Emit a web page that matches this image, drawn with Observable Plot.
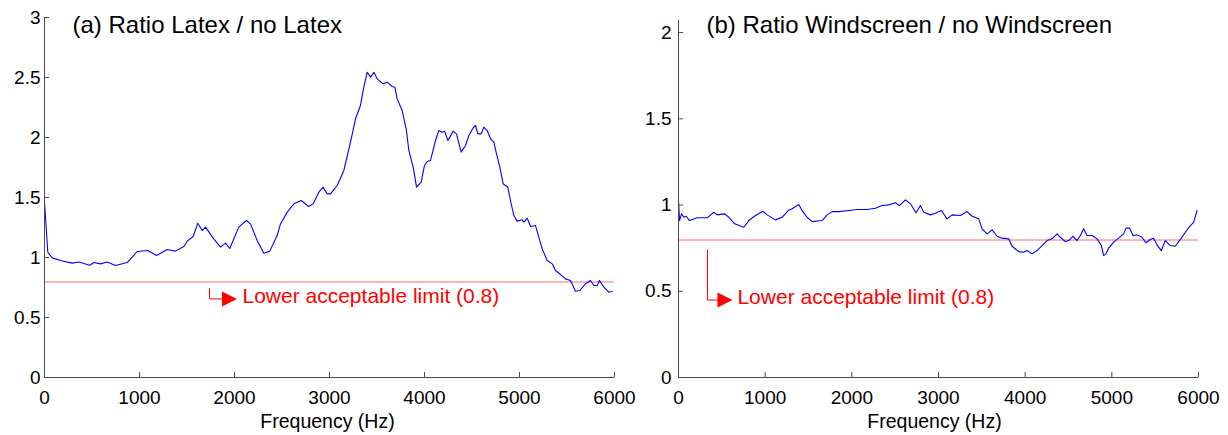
<!DOCTYPE html>
<html>
<head>
<meta charset="utf-8">
<script src="https://cdn.jsdelivr.net/npm/d3@7"></script>
<script src="https://cdn.jsdelivr.net/npm/@observablehq/plot@0.6"></script>
<style>
  html, body { margin: 0; padding: 0; background: #fff; }
  #wrap { position: relative; width: 1228px; height: 435px; overflow: hidden; background: #fff; font-family: "Liberation Sans", Arial, sans-serif; }
  #wrap svg { position: absolute; top: 0; overflow: visible; }
</style>
</head>
<body>
<div id="wrap"></div>
<script>
// ---------- data ----------
const titleA = "(a) Ratio Latex / no Latex";
const titleB = "(b) Ratio Windscreen / no Windscreen";
const xLabel = "Frequency (Hz)";
const limitLabel = "Lower acceptable limit (0.8)";
const lowerLimit = 0.8;

const xTicks = [0, 1000, 2000, 3000, 4000, 5000, 6000];
const yTicksA = [0, 0.5, 1, 1.5, 2, 2.5, 3];
const yTicksB = [0, 0.5, 1, 1.5, 2];

const freqA = [0,35,81,168,291,361,477,519,589,660,747,870,923,975,1088,1179,1291,1379,1467,1502,1565,1614,1660,1695,1782,1853,1905,1950,2045,2126,2168,2239,2309,2372,2449,2484,2555,2625,2702,2782,2828,2888,2933,2975,3011,3081,3151,3221,3274,3326,3361,3397,3432,3467,3502,3565,3607,3660,3688,3712,3765,3810,3835,3881,3916,3965,4000,4028,4063,4116,4151,4186,4211,4246,4302,4337,4361,4386,4432,4467,4512,4537,4561,4596,4624,4660,4695,4730,4758,4793,4828,4877,4905,4940,4975,5028,5046,5081,5116,5168,5203,5239,5291,5344,5379,5432,5484,5537,5589,5635,5695,5747,5782,5818,5842,5888,5940,5975];
const ratioA = [1.46,1.044,0.997,0.975,0.953,0.963,0.936,0.958,0.947,0.963,0.933,0.958,1.003,1.05,1.058,1.017,1.067,1.053,1.092,1.136,1.175,1.286,1.225,1.253,1.155,1.086,1.12,1.075,1.253,1.308,1.28,1.142,1.036,1.053,1.183,1.28,1.378,1.447,1.475,1.425,1.447,1.544,1.586,1.53,1.53,1.6,1.725,1.961,2.156,2.267,2.419,2.544,2.503,2.544,2.489,2.447,2.461,2.425,2.419,2.322,2.225,2.058,1.892,1.753,1.586,1.628,1.767,1.8,1.808,1.975,2.058,2.044,2.053,1.975,2.053,2.03,1.953,1.878,1.933,2.017,2.08,2.1,2.03,2.03,2.086,2.058,1.989,1.961,1.864,1.753,1.614,1.586,1.475,1.35,1.303,1.314,1.294,1.328,1.258,1.267,1.169,1.072,0.975,0.947,0.892,0.858,0.822,0.808,0.719,0.725,0.781,0.808,0.767,0.767,0.808,0.753,0.711,0.719];

const freqB = [0,12,35,61,89,127,216,331,407,446,534,580,649,753,811,888,973,1023,1119,1196,1265,1311,1388,1426,1484,1542,1657,1715,1773,1849,1965,2061,2177,2272,2349,2426,2503,2549,2618,2676,2741,2791,2830,2907,2964,3033,3099,3157,3253,3330,3388,3464,3503,3561,3618,3676,3734,3810,3849,3925,3983,4022,4080,4137,4195,4253,4310,4368,4406,4464,4503,4549,4599,4637,4675,4714,4772,4830,4879,4906,4933,4963,5021,5079,5136,5163,5205,5244,5290,5348,5394,5444,5482,5521,5571,5617,5675,5732,5802,5848,5906,5944,5983];
const ratioB = [1.026,0.91,0.949,0.929,0.935,0.91,0.926,0.926,0.958,0.943,0.949,0.929,0.891,0.871,0.91,0.939,0.964,0.943,0.914,0.929,0.968,0.978,1.003,0.968,0.929,0.904,0.91,0.943,0.962,0.962,0.968,0.974,0.974,0.981,0.997,1.001,1.013,0.997,1.03,1.007,0.955,0.997,0.958,0.943,0.952,0.968,0.92,0.943,0.939,0.962,0.935,0.92,0.862,0.833,0.856,0.819,0.808,0.804,0.761,0.73,0.726,0.736,0.717,0.736,0.765,0.794,0.804,0.833,0.813,0.788,0.794,0.819,0.794,0.823,0.862,0.823,0.823,0.804,0.765,0.707,0.717,0.75,0.785,0.808,0.833,0.866,0.866,0.823,0.827,0.813,0.781,0.8,0.808,0.769,0.736,0.794,0.765,0.761,0.808,0.842,0.881,0.9,0.968];

// annotation anchors (data coordinates): [bracket top, corner], arrow tip, label start
const annoA = { bracket: [[1737, 0.74], [1737, 0.655], [1900, 0.655]], arrow: [1947, 0.655], label: [2084, 0.675] };
const annoB = { bracket: [[334, 0.742], [334, 0.449], [500, 0.449]], arrow: [536, 0.449], label: [680, 0.466] };

// ---------- drawing ----------
const FONT = '"Liberation Sans", Arial, sans-serif';
const AXIS = "#4a4a4a";
const triRight = {
  draw(ctx, size) {
    const s = Math.sqrt(size / Math.PI);
    ctx.moveTo(s, 0); ctx.lineTo(-s, -s); ctx.lineTo(-s, s); ctx.closePath();
  }
};

function panel({freq, ratio, yTicks, yMax, title, anno, width, mL, mR, mT, yPad, labelDx}) {
  const height = 435, mB = 58;
  const plotW = width - mL - mR, plotH = height - mT - mB;
  const data = freq.map((f, i) => ({f, r: ratio[i]}));
  return Plot.plot({
    width, height,
    marginLeft: mL, marginRight: mR, marginTop: mT, marginBottom: mB,
    style: {fontFamily: FONT, background: "transparent", overflow: "visible"},
    x: {domain: [0, 6000]},
    y: {domain: [0, yMax]},
    marks: [
      Plot.ruleY([lowerLimit], {stroke: "#ff6a6a", strokeWidth: 1, dy: 0.5}),
      Plot.line(data, {x: "f", y: "r", stroke: "#0000ff", strokeWidth: 1.1}),
      // annotation
      Plot.line(anno.bracket, {x: d => d[0], y: d => d[1], stroke: "#ff0000", strokeWidth: 1}),
      Plot.dot([anno.arrow], {x: d => d[0], y: d => d[1], symbol: triRight, r: 7.5, fill: "#ff0000", stroke: null}),
      Plot.text([limitLabel], {x: anno.label[0], y: anno.label[1], text: d => d, textAnchor: "start", lineAnchor: "middle", fontSize: 21, fill: "#ff0000"}),
      // axes
      Plot.ruleY([0], {stroke: AXIS, strokeWidth: 1}),
      Plot.ruleX([0], {stroke: AXIS, strokeWidth: 1}),
      Plot.tickX(xTicks, {x: d => d, insetTop: plotH - 5, stroke: AXIS}),
      Plot.tickY(yTicks, {y: d => d, insetRight: plotW - 5, stroke: AXIS}),
      Plot.axisX(xTicks, {tickSize: 0, tickPadding: 13, fontSize: 19, fill: "black", label: null, tickFormat: d => String(d)}),
      Plot.axisY(yTicks, {tickSize: 0, tickPadding: yPad, fontSize: 19, fill: "black", label: null, tickFormat: d => String(d)}),
      Plot.text([xLabel], {frameAnchor: "bottom", dy: 44, dx: labelDx, text: d => d, lineAnchor: "middle", fontSize: 19.5, fill: "black"}),
      Plot.text([title], {frameAnchor: "top-left", dx: 28, dy: 15 - mT, text: d => d, textAnchor: "start", lineAnchor: "top", fontSize: 24, fill: "black"})
    ]
  });
}

const wrap = document.getElementById("wrap");
const right = panel({freq: freqB, ratio: ratioB, yTicks: yTicksB, yMax: 2.07, title: titleB, anno: annoB,
  width: 608, mL: 58, mR: 30, mT: 20, yPad: 7, labelDx: -4});
right.style.left = "620px";
wrap.appendChild(right);
const left = panel({freq: freqA, ratio: ratioA, yTicks: yTicksA, yMax: 3, title: titleA, anno: annoA,
  width: 620, mL: 44, mR: 6, mT: 17, yPad: 4, labelDx: -2});
left.style.left = "0px";
wrap.appendChild(left);
</script>
</body>
</html>
